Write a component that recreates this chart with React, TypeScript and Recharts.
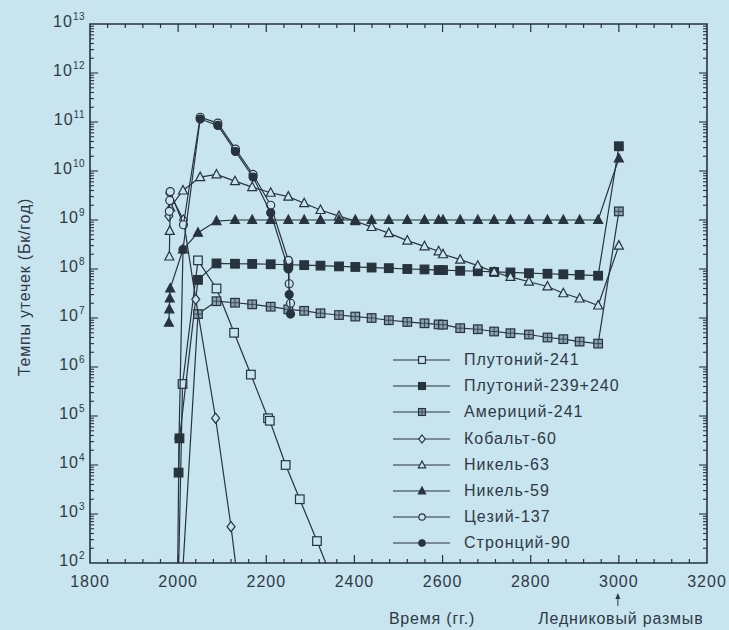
import React from "react";
import { ScatterChart, Scatter, XAxis, YAxis, ReferenceArea, Legend } from "recharts";

// plot frame in page pixels
const PLOT = { left: 90, top: 24, right: 707, bottom: 563 };
const BG = "#c7e4ef";
const INK = "#27333d";
const TEXT = "#2f3a44";
const FONT = "'Liberation Sans', Arial, Helvetica, sans-serif";

const X_TICKS = Array.from({ length: 36 }, (_, i) => 1800 + i * 40);
const Y_EXPONENTS = [2, 3, 4, 5, 6, 7, 8, 9, 10, 11, 12, 13];
const Y_TICKS: number[] = [];
Y_EXPONENTS.forEach((e) => {
  if (e === 13) Y_TICKS.push(1e13);
  else for (let k = 1; k <= 9; k++) Y_TICKS.push(k * Math.pow(10, e));
});

// time steps shared by the long-lived nuclides
const FLAT_YEARS = [2087, 2129, 2168, 2210, 2250, 2286, 2323, 2365, 2402, 2439, 2478, 2520, 2559, 2591, 2601, 2640, 2680, 2717, 2754, 2796, 2838, 2874, 2911, 2953];

const PU241_YEARS = [1999, 2010, 2045, 2087, 2127, 2165, 2204, 2208, 2244, 2276, 2315, 2380];
const PU241_VALUES = [10, 4.5e5, 1.5e8, 4e7, 5e6, 7e5, 9e4, 8e4, 1e4, 2e3, 2.8e2, 10];

const PU239_FLAT = [1.3e8, 1.28e8, 1.27e8, 1.25e8, 1.22e8, 1.2e8, 1.17e8, 1.13e8, 1.1e8, 1.07e8, 1.04e8, 1e8, 9.8e7, 9.5e7, 9.5e7, 9.2e7, 9e7, 8.7e7, 8.5e7, 8.2e7, 8e7, 7.8e7, 7.6e7, 7.3e7];
const PU239_YEARS = [2001, 2003, 2045, ...FLAT_YEARS, 3000];
const PU239_VALUES = [7e3, 3.5e4, 6e7, ...PU239_FLAT, 3.2e10];

const AM241_FLAT = [2.2e7, 2.05e7, 1.9e7, 1.7e7, 1.5e7, 1.4e7, 1.25e7, 1.15e7, 1.07e7, 1e7, 9e6, 8.3e6, 7.8e6, 7.4e6, 7.3e6, 6.2e6, 5.9e6, 5.3e6, 4.9e6, 4.6e6, 4e6, 3.7e6, 3.3e6, 3e6];
const AM241_YEARS = [2005, 2045, ...FLAT_YEARS, 3000];
const AM241_VALUES = [10, 1.2e7, ...AM241_FLAT, 1.5e9];

const CO60_YEARS = [1979, 1981, 2012, 2040, 2085, 2120, 2144];
const CO60_VALUES = [1.2e9, 3.5e9, 1e9, 2.4e7, 9e4, 5.5e2, 10];

const NI63_FLAT = [8.5e9, 6.2e9, 4.7e9, 3.6e9, 3e9, 2.2e9, 1.6e9, 1.2e9, 9.5e8, 7.2e8, 5.4e8, 3.8e8, 2.9e8, 2.3e8, 2e8, 1.55e8, 1.17e8, 8.7e7, 6.9e7, 5.5e7, 4.4e7, 3.2e7, 2.5e7, 1.8e7];
const NI63_YEARS = [1980, 1981, 1982, 2011, 2050, ...FLAT_YEARS, 3000];
const NI63_VALUES = [1.8e8, 6e8, 1.8e9, 4e9, 7.5e9, ...NI63_FLAT, 3e8];

const NI59_FLAT = [9.5e8, 1e9, 1e9, 1e9, 1e9, 1e9, 1e9, 1e9, 1e9, 1e9, 1e9, 1e9, 1e9, 1e9, 1e9, 1e9, 1e9, 1e9, 1e9, 1e9, 1e9, 1e9, 1e9, 1e9];
const NI59_YEARS = [1979, 1980, 1981, 1982, 2011, 2045, ...FLAT_YEARS, 3000];
const NI59_VALUES = [8e6, 1.5e7, 2.5e7, 4e7, 2.5e8, 5.5e8, ...NI59_FLAT, 1.8e10];

const CS137_YEARS = [1980, 1981, 1982, 2012, 2050, 2090, 2130, 2170, 2210, 2250, 2252, 2255];
const CS137_VALUES = [1.5e9, 2.5e9, 3.8e9, 8e8, 1.25e11, 9.5e10, 2.8e10, 8.5e9, 2e9, 1.5e8, 5e7, 2e7];

const SR90_YEARS = [1998, 2002, 2011, 2050, 2090, 2130, 2170, 2210, 2250, 2252, 2255];
const SR90_VALUES = [10, 3.5e4, 2.5e8, 1.15e11, 8.5e10, 2.5e10, 7.5e9, 1.4e9, 1e8, 3e7, 1.2e7];

type Kind = "sq" | "sqFill" | "sqGrid" | "diamond" | "tri" | "triFill" | "circ" | "circFill";

const toPoints = (xs: number[], ys: number[]) => xs.map((x, i) => ({ x, y: ys[i] }));

const SERIES: { name: string; kind: Kind; data: { x: number; y: number }[] }[] = [
  { name: "Плутоний-241", kind: "sq", data: toPoints(PU241_YEARS, PU241_VALUES) },
  { name: "Плутоний-239+240", kind: "sqFill", data: toPoints(PU239_YEARS, PU239_VALUES) },
  { name: "Америций-241", kind: "sqGrid", data: toPoints(AM241_YEARS, AM241_VALUES) },
  { name: "Кобальт-60", kind: "diamond", data: toPoints(CO60_YEARS, CO60_VALUES) },
  { name: "Никель-63", kind: "tri", data: toPoints(NI63_YEARS, NI63_VALUES) },
  { name: "Никель-59", kind: "triFill", data: toPoints(NI59_YEARS, NI59_VALUES) },
  { name: "Цезий-137", kind: "circ", data: toPoints(CS137_YEARS, CS137_VALUES) },
  { name: "Стронций-90", kind: "circFill", data: toPoints(SR90_YEARS, SR90_VALUES) },
];

function Marker({ kind, cx, cy, inPlot = true, k = 1 }: { kind: Kind; cx: number; cy: number; inPlot?: boolean; k?: number }) {
  if (inPlot && (cy > PLOT.bottom + 1 || cy < PLOT.top - 1)) return <g />;
  const s = 4.3 * k;
  const common = { stroke: INK, strokeWidth: 1.2 };
  switch (kind) {
    case "sq":
      return <rect x={cx - s} y={cy - s} width={2 * s} height={2 * s} fill={BG} {...common} />;
    case "sqFill":
      return <rect x={cx - s} y={cy - s} width={2 * s} height={2 * s} fill={INK} {...common} />;
    case "sqGrid":
      return (
        <g>
          <rect x={cx - s} y={cy - s} width={2 * s} height={2 * s} fill="#8aa0ad" {...common} />
          <line x1={cx - s} x2={cx + s} y1={cy} y2={cy} stroke={INK} strokeWidth={0.8} />
          <line x1={cx} x2={cx} y1={cy - s} y2={cy + s} stroke={INK} strokeWidth={0.8} />
        </g>
      );
    case "diamond":
      return <polygon points={`${cx},${cy - 5 * k} ${cx + 4 * k},${cy} ${cx},${cy + 5 * k} ${cx - 4 * k},${cy}`} fill={BG} {...common} />;
    case "tri":
      return <polygon points={`${cx},${cy - 5 * k} ${cx + 4.5 * k},${cy + 3.5 * k} ${cx - 4.5 * k},${cy + 3.5 * k}`} fill={BG} {...common} />;
    case "triFill":
      return <polygon points={`${cx},${cy - 5 * k} ${cx + 4.5 * k},${cy + 3.5 * k} ${cx - 4.5 * k},${cy + 3.5 * k}`} fill={INK} {...common} />;
    case "circ":
      return <circle cx={cx} cy={cy} r={4 * k} fill={BG} {...common} />;
    default:
      return <circle cx={cx} cy={cy} r={4 * k} fill={INK} {...common} />;
  }
}

function XTick(props: any) {
  const { x, payload } = props;
  const v = payload.value as number;
  const major = v % 200 === 0;
  const len = major ? 8 : 4;
  return (
    <g>
      {v !== 1800 && v !== 3200 && (
        <>
          <line x1={x} x2={x} y1={PLOT.bottom} y2={PLOT.bottom - len} stroke={INK} strokeWidth={1.2} />
          <line x1={x} x2={x} y1={PLOT.top} y2={PLOT.top + len} stroke={INK} strokeWidth={1.2} />
        </>
      )}
      {major && (
        <text x={x} y={PLOT.bottom + 24} textAnchor="middle" fontFamily={FONT} fontSize={16} letterSpacing={1} fill={TEXT}>
          {v}
        </text>
      )}
    </g>
  );
}

function YTick(props: any) {
  const { y, payload } = props;
  const v = payload.value as number;
  const e = Math.round(Math.log10(v));
  const major = Math.abs(v - Math.pow(10, e)) < v * 1e-9;
  const len = major ? 8 : 4;
  return (
    <g>
      {v !== 1e2 && v !== 1e13 && (
        <>
          <line x1={PLOT.left} x2={PLOT.left + len} y1={y} y2={y} stroke={INK} strokeWidth={1.1} />
          <line x1={PLOT.right} x2={PLOT.right - len} y1={y} y2={y} stroke={INK} strokeWidth={1.1} />
        </>
      )}
      {major && (
        <text x={PLOT.left - 5} y={y + 3} textAnchor="end" fontFamily={FONT} fontSize={16} letterSpacing={1} fill={TEXT}>
          <tspan>10</tspan>
          <tspan dy={-7} fontSize={10} letterSpacing={0.5}>{e}</tspan>
        </text>
      )}
    </g>
  );
}

function XTitle() {
  const x3000 = PLOT.left + ((3000 - 1800) / 1400) * (PLOT.right - PLOT.left);
  return (
    <g fontFamily={FONT} fontSize={16} letterSpacing={0.8} fill={TEXT}>
      <text x={432} y={624} textAnchor="middle">Время (гг.)</text>
      <text x={x3000 + 2} y={624} textAnchor="middle">Ледниковый размыв</text>
      <line x1={x3000 - 1} x2={x3000 - 1} y1={595} y2={606} stroke={TEXT} strokeWidth={1} />
      <polygon points={`${x3000 - 1},${593} ${x3000 + 1.5},${599} ${x3000 - 3.5},${599}`} fill={TEXT} />
    </g>
  );
}

function YTitle() {
  return (
    <text
      x={24}
      y={287}
      transform="rotate(-90 24 287)"
      textAnchor="middle"
      dominantBaseline="central"
      fontFamily={FONT}
      fontSize={16}
      letterSpacing={0.8}
      fill={TEXT}
    >
      Темпы утечек (Бк/год)
    </text>
  );
}

function LegendBox() {
  return (
    <div style={{ fontFamily: FONT, fontSize: 16, letterSpacing: 1, color: TEXT }}>
      {SERIES.map((s) => (
        <div key={s.name} style={{ display: "flex", alignItems: "center", height: 26.2 }}>
          <svg width={62} height={14} style={{ display: "block" }}>
            <line x1={2} x2={59} y1={7} y2={7} stroke={INK} strokeWidth={1.2} />
            <Marker kind={s.kind} cx={31} cy={7} inPlot={false} k={0.8} />
          </svg>
          <span style={{ marginLeft: 11, whiteSpace: "nowrap" }}>{s.name}</span>
        </div>
      ))}
    </div>
  );
}

export default function App() {
  return (
    <div style={{ position: "absolute", left: 0, top: 0, width: 729, height: 630, background: BG }}>
      <ScatterChart width={729} height={630} margin={{ top: PLOT.top, right: 729 - PLOT.right, bottom: 630 - PLOT.bottom - 30, left: PLOT.left - 60 }}>
        <XAxis
          type="number"
          dataKey="x"
          domain={[1800, 3200]}
          ticks={X_TICKS}
          interval={0}
          tick={<XTick />}
          tickLine={false}
          axisLine={false}
          height={30}
          label={<XTitle />}
        />
        <YAxis
          type="number"
          dataKey="y"
          scale="log"
          domain={[1e2, 1e13]}
          allowDataOverflow
          ticks={Y_TICKS}
          interval={0}
          tick={<YTick />}
          tickLine={false}
          axisLine={false}
          width={60}
          label={<YTitle />}
        />
        <ReferenceArea x1={1800} x2={3200} y1={1e2} y2={1e13} fill="none" stroke={INK} strokeWidth={1.6} ifOverflow="visible" />
        {SERIES.map((s) => (
          <Scatter
            key={s.name}
            name={s.name}
            data={s.data}
            line={{ stroke: INK, strokeWidth: 1.2 }}
            lineType="joint"
            isAnimationActive={false}
            shape={(p: any) => <Marker kind={s.kind} cx={p.cx} cy={p.cy} />}
          />
        ))}
        <Legend
          layout="vertical"
          align="center"
          verticalAlign="middle"
          content={<LegendBox />}
          wrapperStyle={{ position: "absolute", left: 391, top: 347, width: 320 }}
        />
      </ScatterChart>
    </div>
  );
}
